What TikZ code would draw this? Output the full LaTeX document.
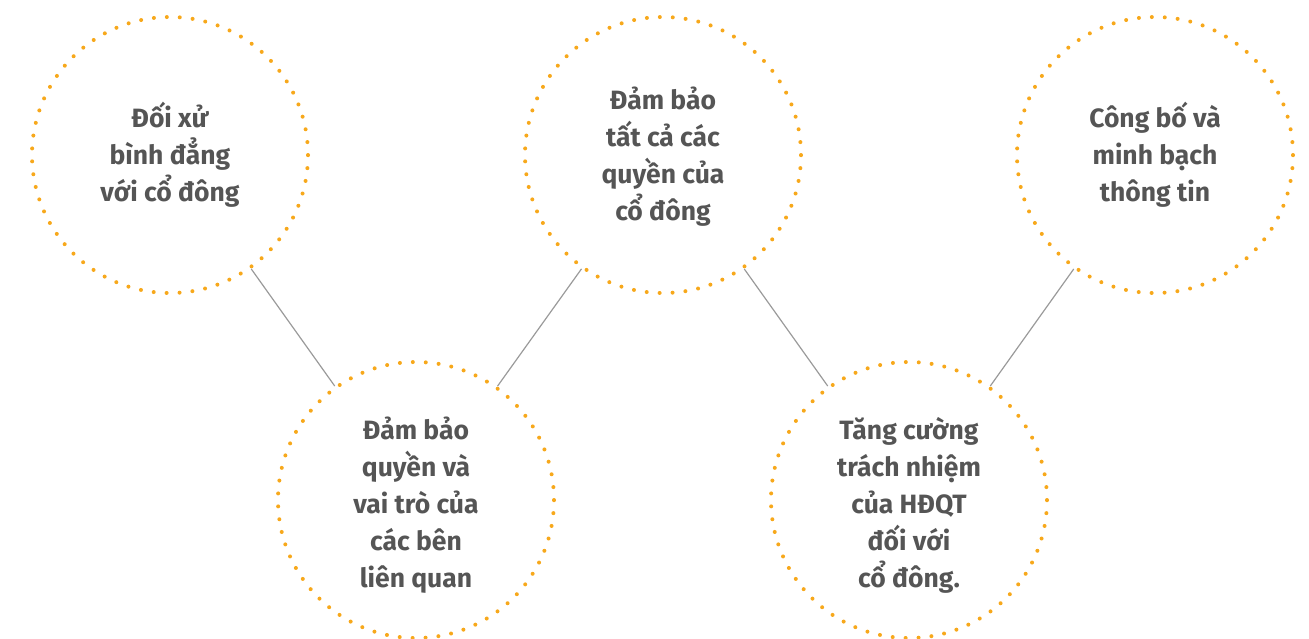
\documentclass[tikz,border=0pt]{standalone}
\usepackage{fontspec}
\setmainfont{Fira Sans}
\definecolor{dotc}{HTML}{F7A81B}
\definecolor{txtc}{HTML}{555555}
\definecolor{linec}{HTML}{9A9A9A}
\begin{document}
\begin{tikzpicture}[x=1pt,y=-1pt,
  bub/.style={circle,minimum size=276pt,inner sep=0pt,draw=dotc,line width=4pt,
    line cap=round,dash pattern=on 0pt off 12.94pt},
  lbl/.style={text=txtc,align=center,font=\fontsize{26.5}{37}\selectfont\bfseries},
  link/.style={draw=linec,line width=1.2pt}]
\useasboundingbox (0,0) rectangle (1309,638);
\node[bub] (c1) at (170,155) {};
\node[bub] (c2) at (416,500) {};
\node[bub] (c3) at (663,155) {};
\node[bub] (c4) at (909,500) {};
\node[bub] (c5) at (1155,155) {};
\node[lbl] (t1) at (170,155) {Đối xử\\bình đẳng\\với cổ đông};
\node[lbl] (t2) at (416,505) {Đảm bảo\\quyền và\\vai trò của\\các bên\\liên quan};
\node[lbl] (t3) at (663,157) {Đảm bảo\\tất cả các\\quyền của\\cổ đông};
\node[lbl] (t4) at (909,505) {Tăng cường\\trách nhiệm\\của HĐQT\\đối với\\cổ đông.};
\node[lbl] (t5) at (1155,155) {Công bố và\\minh bạch\\thông tin};
\draw[link] (c1) -- (c2);
\draw[link] (c2) -- (c3);
\draw[link] (c3) -- (c4);
\draw[link] (c4) -- (c5);
\end{tikzpicture}
\end{document}
